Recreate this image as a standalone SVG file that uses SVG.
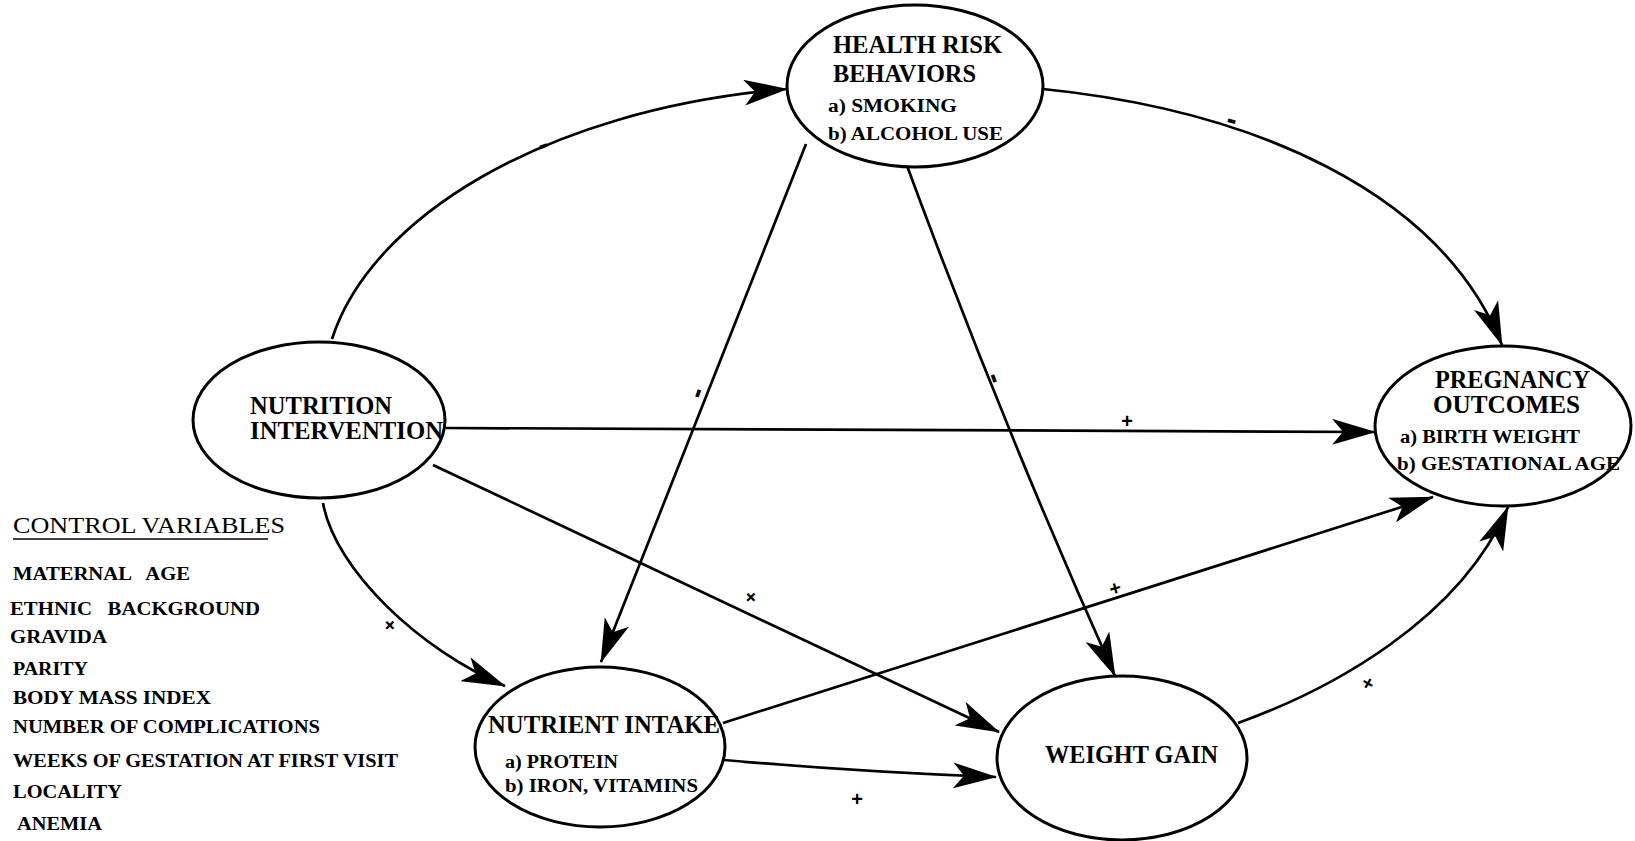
<svg xmlns="http://www.w3.org/2000/svg" width="1635" height="841" viewBox="0 0 1635 841">
<style>
  .node { fill: #ffffff; stroke: #000000; stroke-width: 3; }
  .conn { fill: none; stroke: #000000; stroke-width: 2.7; marker-end: url(#arr); }
  .t1 { font-family: "Liberation Serif", "Times New Roman", serif; font-size: 25px; font-weight: bold; fill: #000; }
  .t2 { font-family: "Liberation Serif", "Times New Roman", serif; font-size: 18px; font-weight: bold; fill: #000; }
  .cv { font-family: "Liberation Serif", "Times New Roman", serif; font-size: 19px; font-weight: bold; fill: #000; }
  .cvh { font-family: "Liberation Serif", "Times New Roman", serif; font-size: 24px; fill: #000; }
  .sign { font-family: "Liberation Sans", Arial, sans-serif; font-size: 20px; font-weight: bold; fill: #000; text-anchor: middle; }
  .minus { font-family: "Liberation Sans", Arial, sans-serif; font-size: 30px; font-weight: bold; fill: #000; text-anchor: middle; }
</style>
<defs>
  <marker id="arr" markerUnits="userSpaceOnUse" markerWidth="44" markerHeight="26" refX="43" refY="13" orient="auto">
    <path d="M0,0 L44,13 L0,26 L11,13 z" fill="#000"/>
  </marker>
</defs>
<rect width="1635" height="841" fill="#ffffff"/>

<g id="connectors">
  <path class="conn" d="M332,339 C370,220 540,110 787,89"/>
  <path class="conn" d="M1043,89 C1250,110 1440,190 1502,345"/>
  <path class="conn" d="M446,428 L1375,432"/>
  <path class="conn" d="M806,144 L601,662"/>
  <path class="conn" d="M899,144 Q1000,420 1115,676"/>
  <path class="conn" d="M323,503 C335,570 420,650 505,686"/>
  <path class="conn" d="M433,465 L999,732"/>
  <path class="conn" d="M723,723 L1433,497"/>
  <path class="conn" d="M724,760 Q860,772 996,777"/>
  <path class="conn" d="M1238,723 C1330,690 1460,620 1508,507"/>
</g>

<g id="signs">
  <text class="minus" transform="translate(543,145) rotate(-20)" x="0" y="9">-</text>
  <text class="minus" transform="translate(1232,120) rotate(15)" x="0" y="9">-</text>
  <text class="sign" x="1127" y="428">+</text>
  <text class="minus" transform="translate(697,393) rotate(-70)" x="0" y="9">-</text>
  <text class="minus" transform="translate(995,378) rotate(70)" x="0" y="9">-</text>
  <text class="sign" transform="translate(390,625) rotate(45)" x="0" y="7">+</text>
  <text class="sign" transform="translate(751,597) rotate(45)" x="0" y="7">+</text>
  <text class="sign" transform="translate(1115,588) rotate(-15)" x="0" y="7">+</text>
  <text class="sign" x="857" y="806">+</text>
  <text class="sign" transform="translate(1368,683) rotate(30)" x="0" y="7">+</text>
</g>

<g id="health-risk">
  <ellipse class="node" cx="915" cy="86" rx="128" ry="81"/>
  <text class="t1" x="833" y="53" textLength="169" lengthAdjust="spacingAndGlyphs">HEALTH RISK</text>
  <text class="t1" x="833" y="82" textLength="143" lengthAdjust="spacingAndGlyphs">BEHAVIORS</text>
  <text class="t2" x="828" y="112" textLength="129" lengthAdjust="spacingAndGlyphs">a) SMOKING</text>
  <text class="t2" x="828" y="140" textLength="175" lengthAdjust="spacingAndGlyphs">b) ALCOHOL USE</text>
</g>

<g id="nutrition-intervention">
  <ellipse class="node" cx="319" cy="420" rx="126" ry="78"/>
  <text class="t1" x="250" y="414" textLength="142" lengthAdjust="spacingAndGlyphs">NUTRITION</text>
  <text class="t1" x="250" y="439" textLength="193" lengthAdjust="spacingAndGlyphs">INTERVENTION</text>
</g>

<g id="pregnancy-outcomes">
  <ellipse class="node" cx="1503" cy="426" rx="128" ry="80"/>
  <text class="t1" x="1435" y="388" textLength="155" lengthAdjust="spacingAndGlyphs">PREGNANCY</text>
  <text class="t1" x="1433" y="413" textLength="147" lengthAdjust="spacingAndGlyphs">OUTCOMES</text>
  <text class="t2" x="1400" y="443" textLength="180" lengthAdjust="spacingAndGlyphs">a) BIRTH WEIGHT</text>
  <text class="t2" x="1397" y="470" textLength="223" lengthAdjust="spacingAndGlyphs">b) GESTATIONAL AGE</text>
</g>

<g id="nutrient-intake">
  <ellipse class="node" cx="600" cy="747" rx="125" ry="80"/>
  <text class="t1" x="488" y="733" textLength="232" lengthAdjust="spacingAndGlyphs">NUTRIENT INTAKE</text>
  <text class="t2" x="505" y="768" textLength="113" lengthAdjust="spacingAndGlyphs">a) PROTEIN</text>
  <text class="t2" x="505" y="792" textLength="193" lengthAdjust="spacingAndGlyphs">b) IRON, VITAMINS</text>
</g>

<g id="weight-gain">
  <ellipse class="node" cx="1122" cy="758" rx="125" ry="82"/>
  <text class="t1" x="1045" y="763" textLength="173" lengthAdjust="spacingAndGlyphs">WEIGHT GAIN</text>
</g>

<g id="control-variables">
  <text class="cvh" x="13" y="533" textLength="272" lengthAdjust="spacingAndGlyphs">CONTROL VARIABLES</text>
  <line x1="13" y1="539" x2="268" y2="539" stroke="#000" stroke-width="1.5"/>
  <text class="cv" x="13" y="580" textLength="177" lengthAdjust="spacingAndGlyphs" xml:space="preserve">MATERNAL   AGE</text>
  <text class="cv" x="10" y="615" textLength="250" lengthAdjust="spacingAndGlyphs" xml:space="preserve">ETHNIC   BACKGROUND</text>
  <text class="cv" x="10" y="643" textLength="97" lengthAdjust="spacingAndGlyphs">GRAVIDA</text>
  <text class="cv" x="13" y="675" textLength="75" lengthAdjust="spacingAndGlyphs">PARITY</text>
  <text class="cv" x="13" y="704" textLength="198" lengthAdjust="spacingAndGlyphs">BODY MASS INDEX</text>
  <text class="cv" x="13" y="733" textLength="307" lengthAdjust="spacingAndGlyphs">NUMBER OF COMPLICATIONS</text>
  <text class="cv" x="13" y="767" textLength="385" lengthAdjust="spacingAndGlyphs">WEEKS OF GESTATION AT FIRST VISIT</text>
  <text class="cv" x="13" y="798" textLength="109" lengthAdjust="spacingAndGlyphs">LOCALITY</text>
  <text class="cv" x="17" y="830" textLength="85" lengthAdjust="spacingAndGlyphs">ANEMIA</text>
</g>
</svg>
